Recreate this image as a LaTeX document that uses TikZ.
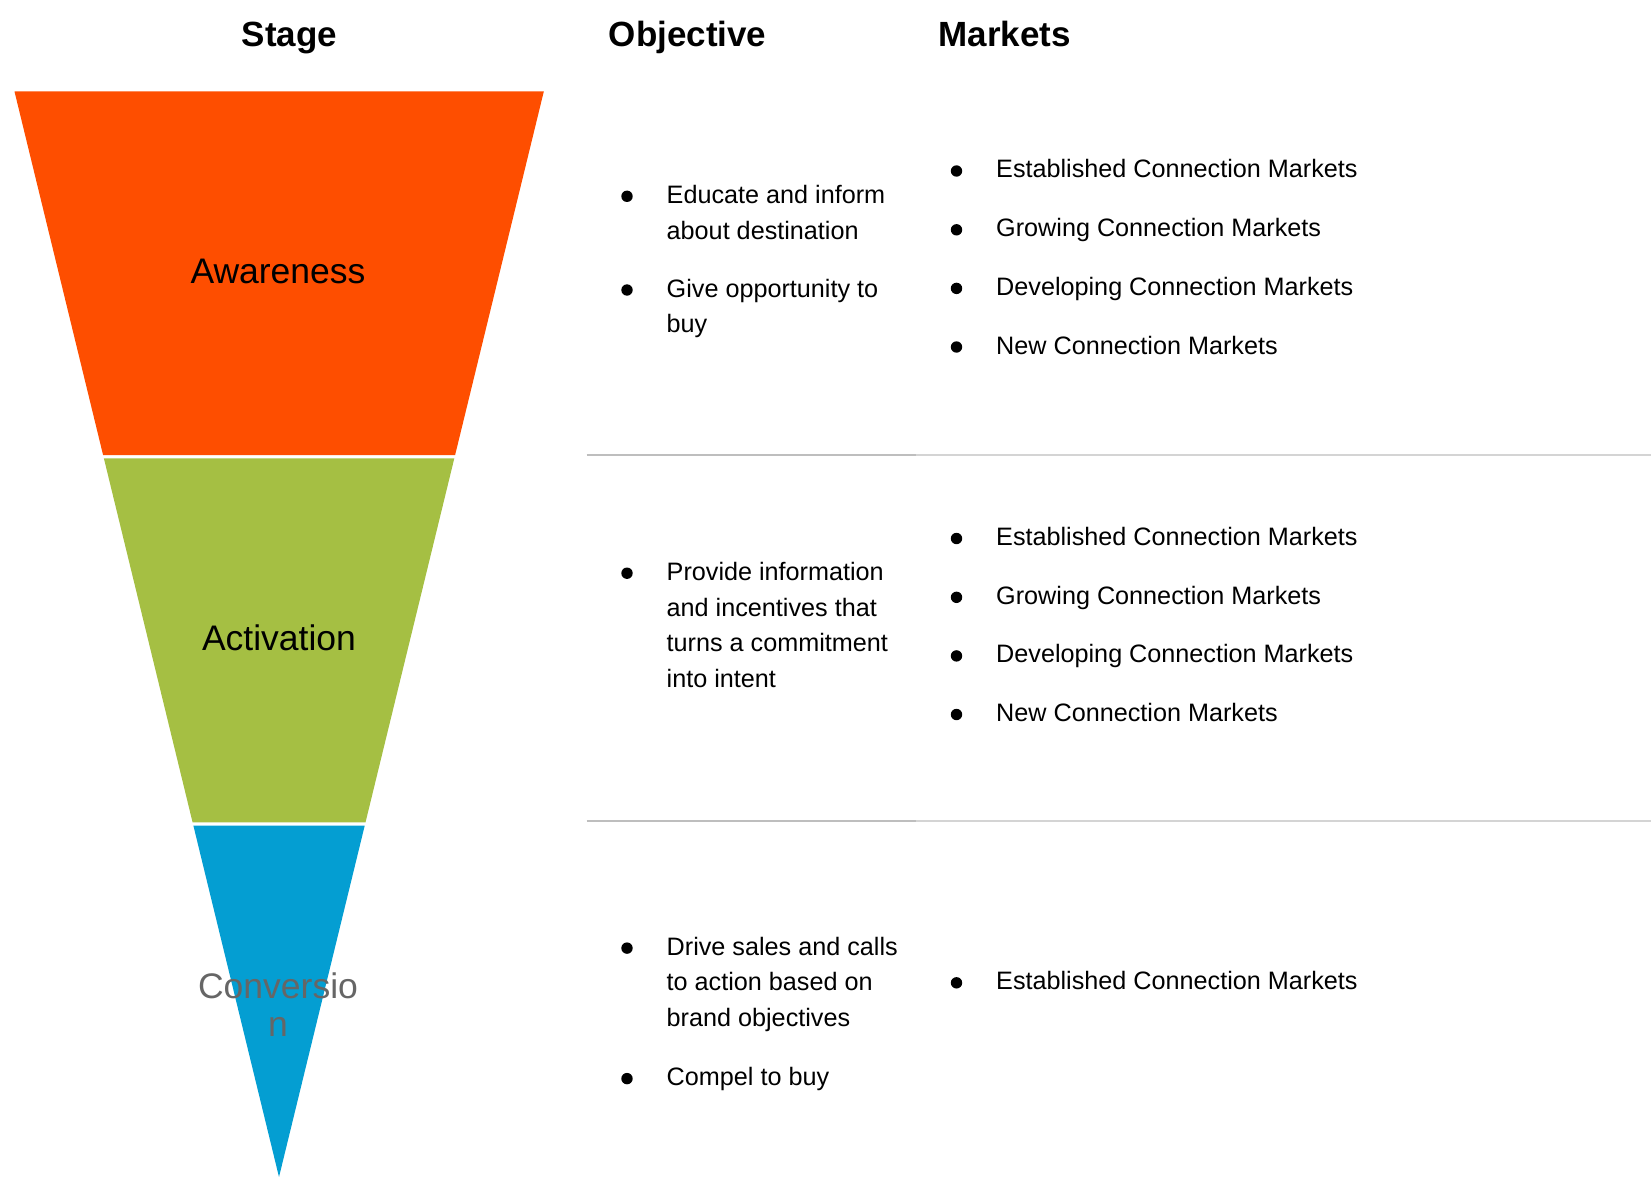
\documentclass[tikz,border=0pt]{standalone}
\usepackage{fontspec}
\setmainfont{Liberation Sans}
\usetikzlibrary{calc}

\definecolor{funnelorange}{HTML}{FE4E00}
\definecolor{funnelgreen}{HTML}{A5BF43}
\definecolor{funnelblue}{HTML}{049ED2}
\definecolor{convgray}{HTML}{666666}
\definecolor{ruledark}{HTML}{BEBEBE}
\definecolor{rulelight}{HTML}{D4D4D4}

\begin{document}
\begin{tikzpicture}[x=1pt,y=-1pt,
  header/.style={font=\fontsize{35}{40}\selectfont\bfseries, inner sep=0, anchor=base},
  stagelabel/.style={font=\fontsize{35.5}{37.6}\selectfont, inner sep=0, anchor=base, align=center},
  % multi-line nodes sit on the baseline of their last line
  para/.style={font=\fontsize{25.2}{35.8}\selectfont, inner sep=0, anchor=base west, align=left},
  bul/.style={circle, fill=black, inner sep=0, minimum size=11.4},
  rule/.style={line width=2.2}
]
\useasboundingbox (0,0) rectangle (1651,1177);

% funnel outline: one triangle cut into three bands
\coordinate (TL) at (14.5,91.5);
\coordinate (TR) at (543.8,91.5);
\coordinate (A)  at (279,1177);

\coordinate (aL) at ($(TL)!0.33487!(A)$);
\coordinate (aR) at ($(TR)!0.33487!(A)$);
\coordinate (bL) at ($(TL)!0.33791!(A)$);
\coordinate (bR) at ($(TR)!0.33791!(A)$);
\coordinate (cL) at ($(TL)!0.67324!(A)$);
\coordinate (cR) at ($(TR)!0.67324!(A)$);
\coordinate (dL) at ($(TL)!0.67637!(A)$);
\coordinate (dR) at ($(TR)!0.67637!(A)$);

\fill[funnelorange] (TL) -- (TR) -- (aR) -- (aL) -- cycle;
\fill[funnelgreen]  (bL) -- (bR) -- (cR) -- (cL) -- cycle;
\fill[funnelblue]   (dL) -- (dR) -- (A) -- cycle;

% stage labels
\node[stagelabel] (aware) at (278,283.5) {Awareness};
\node[stagelabel] (activ) at (279,650.5) {Activation};
\node[stagelabel, text=convgray] (conv) at (278,1036) {Conversio\\n};

% column headers
\node[header] (hstage) at (289.6,46.5) {Stage};
\node[header, anchor=base west] (hobj) at (608.6,46.5) {Objective};
\node[header, anchor=base west] (hmkt) at (938.5,46.5) {Markets};

% row separators
\draw[rule, ruledark]  (586.7,454.7) -- (916,454.7);
\draw[rule, rulelight] (916,454.7) -- (1651,454.7);
\draw[rule, ruledark]  (586.7,821.3) -- (916,821.3);
\draw[rule, rulelight] (916,821.3) -- (1651,821.3);

% ---- Awareness row ----
\node[para] (o11) at (666.5,239.1) {Educate and inform\\about destination};
\node[para] (o12) at (666.5,332.8) {Give opportunity to\\buy};
\node[bul] at (627,196.3) {};
\node[bul] at (627,290) {};

\node[para] (m11) at (996,178) {Established Connection Markets};
\node[para] (m12) at (996,236.8) {Growing Connection Markets};
\node[para] (m13) at (996,295.4) {Developing Connection Markets};
\node[para] (m14) at (996,354) {New Connection Markets};
\foreach \y in {178,236.8,295.4,354} \node[bul] at (956.5,\y-7) {};

% ---- Activation row ----
\node[para] (o21) at (666.5,687.6) {Provide information\\and incentives that\\turns a commitment\\into intent};
\node[bul] at (627,573.2) {};

\node[para] (m21) at (996,545.5) {Established Connection Markets};
\node[para] (m22) at (996,604.3) {Growing Connection Markets};
\node[para] (m23) at (996,662.9) {Developing Connection Markets};
\node[para] (m24) at (996,721.5) {New Connection Markets};
\foreach \y in {545.5,604.3,662.9,721.5} \node[bul] at (956.5,\y-7) {};

% ---- Conversion row ----
\node[para] (o31) at (666.5,1026.7) {Drive sales and calls\\to action based on\\brand objectives};
\node[para] (o32) at (666.5,1085.6) {Compel to buy};
\node[bul] at (627,948.1) {};
\node[bul] at (627,1078.6) {};

\node[para] (m31) at (996,989.8) {Established Connection Markets};
\node[bul] at (956.5,982.8) {};
\end{tikzpicture}
\end{document}
